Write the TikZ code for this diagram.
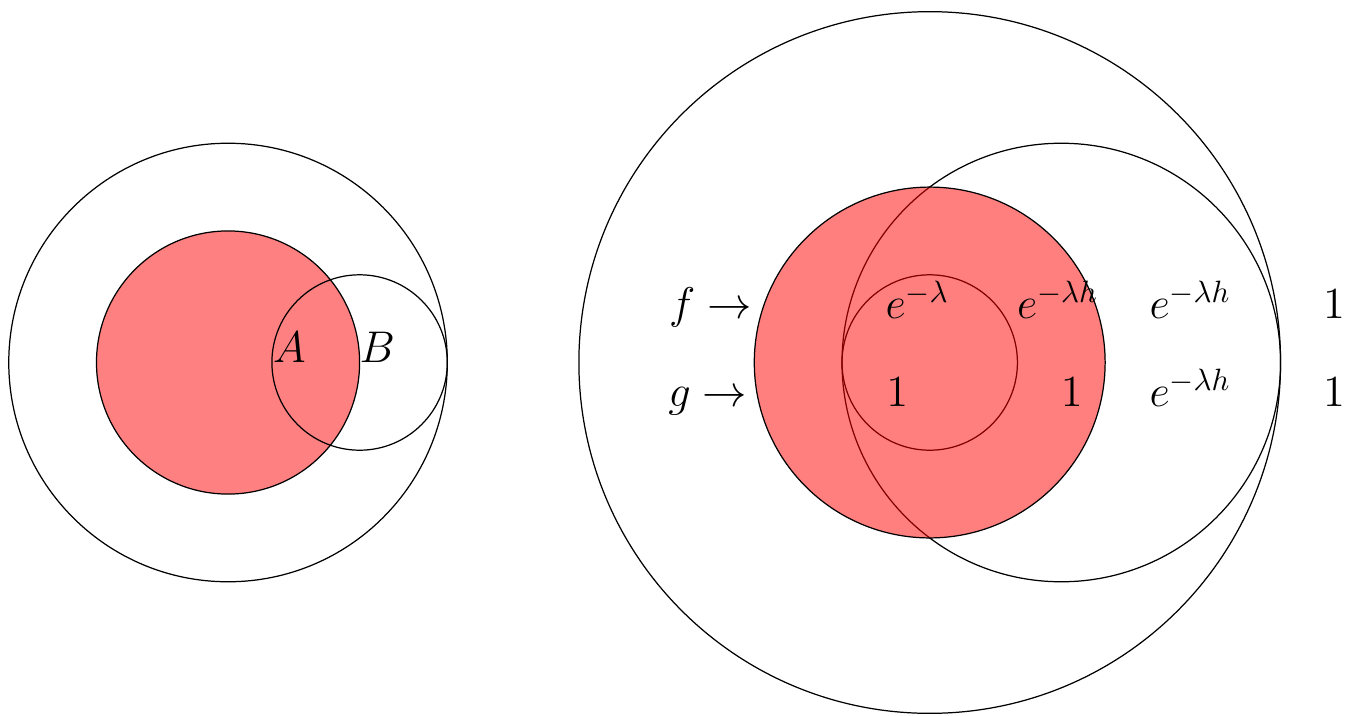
\documentclass[tikz,border=0pt]{standalone}
\begin{document}
\begin{tikzpicture}[
  reddisk/.style={fill=red, fill opacity=0.5, draw=black},
  lbl/.style={anchor=base, inner sep=0pt, font=\Large}
]
\useasboundingbox (-2.6,-4.02) rectangle (12.86,4.133);
% left figure
\fill[red!50] (0,0) circle (1.5);
\draw (0,0) circle (2.5);
\draw (0,0) circle (1.5);
\draw (1.5,0) circle (1);
\node[lbl] (A) at (0.7,0) {$A$};
\node[lbl] (B) at (1.7,0) {$B$};
% right figure
\draw (8,0) circle (4);
\draw (9.5,0) circle (2.5);
\draw (8,0) circle (1);
\path[reddisk] (8,0) circle (2);
\node[lbl] (f) at (5.5,0.5) {$f\rightarrow$};
\node[lbl] (g) at (5.47,-0.5) {$g\rightarrow$};
\node[lbl] (e1) at (7.86,0.5) {$e^{-\lambda}$};
\node[lbl] (o1) at (7.63,-0.5) {$1$};
\node[lbl] (e2) at (9.46,0.5) {$e^{-\lambda h}$};
\node[lbl] (o2) at (9.62,-0.5) {$1$};
\node[lbl] (e3) at (10.97,0.5) {$e^{-\lambda h}$};
\node[lbl] (e4) at (10.97,-0.5) {$e^{-\lambda h}$};
\node[lbl] (o3) at (12.61,0.5) {$1$};
\node[lbl] (o4) at (12.61,-0.5) {$1$};
\end{tikzpicture}
\end{document}
